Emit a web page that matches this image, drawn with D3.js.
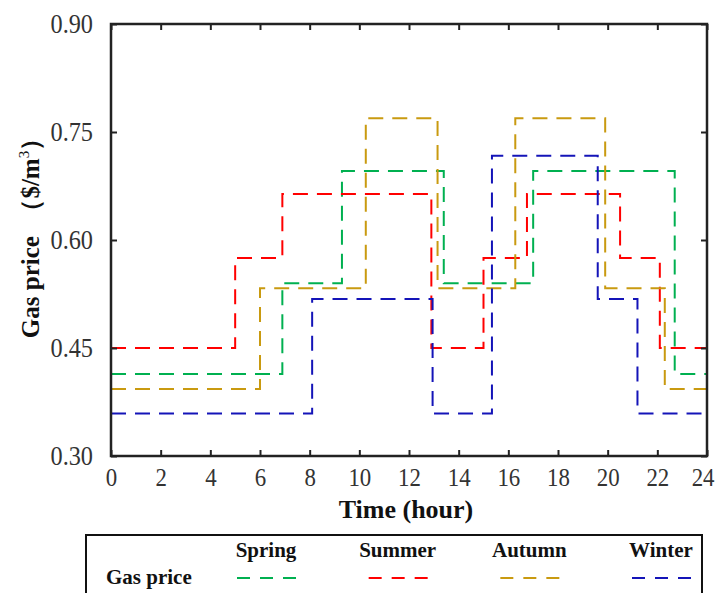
<!DOCTYPE html>
<html lang="en">
<head>
<meta charset="UTF-8">
<title>Gas price</title>
<script src="https://d3js.org/d3.v7.min.js"></script>
<style>
    body { margin: 0; padding: 0; background: #fff; }
    svg { display: block; }
    text { font-family: "Liberation Serif", "Times New Roman", serif; fill: #111; }
    .tick text { fill: #333; }
    .series { fill: none; stroke-width: 2px; }
</style>
</head>
<body>
<svg width="717" height="593"></svg>
<script>
// data
const hourTicks = [0, 2, 4, 6, 8, 10, 12, 14, 16, 18, 20, 22, 24];
const priceTicks = [0.30, 0.45, 0.60, 0.75, 0.90];

const springHours = [0, 6.9, 9.3, 13.4, 17.0, 22.7, 24];
const springPrice = [0.414, 0.540, 0.696, 0.540, 0.696, 0.414, 0.414];

const summerHours = [0, 5.0, 6.9, 12.9, 15.0, 16.75, 20.5, 22.1, 24];
const summerPrice = [0.450, 0.575, 0.664, 0.450, 0.575, 0.664, 0.575, 0.450, 0.450];

const autumnHours = [0, 6.0, 10.26, 13.15, 16.28, 19.9, 22.3, 24];
const autumnPrice = [0.393, 0.533, 0.769, 0.533, 0.769, 0.533, 0.393, 0.393];

const winterHours = [0, 8.1, 12.95, 15.34, 19.6, 21.2, 24];
const winterPrice = [0.359, 0.518, 0.359, 0.717, 0.518, 0.359, 0.359];

const seasons = ["Spring", "Summer", "Autumn", "Winter"];
const seasonColors = ["#00b050", "#ff0000", "#c99a10", "#1414b8"];

const seriesList = [
    { name: "Spring", hours: springHours, price: springPrice },
    { name: "Summer", hours: summerHours, price: summerPrice },
    { name: "Autumn", hours: autumnHours, price: autumnPrice },
    { name: "Winter", hours: winterHours, price: winterPrice }
];

const margin = { top: 24, left: 111 };
const width = 596, height = 432;

const svg = d3.select("svg");
const g = svg.append("g").attr("transform", `translate(${margin.left},${margin.top})`);

const x = d3.scaleLinear().domain([0, 24]).range([0, width]);
const y = d3.scaleLinear().domain([0.30, 0.90]).range([height, 0]);
const color = d3.scaleOrdinal().domain(seasons).range(seasonColors);

// lines
const line = d3.line()
    .x(d => x(d[0]))
    .y(d => y(d[1]))
    .curve(d3.curveStepAfter);

seriesList.forEach(s => {
    g.append("path")
        .datum(s.hours.map((h, i) => [h, s.price[i]]))
        .attr("class", "series")
        .attr("stroke", color(s.name))
        .attr("stroke-dasharray", "15,9")
        .attr("d", line);
});

// axes, ticks inside on all four sides
function styleAxis(sel) {
    sel.select(".domain").remove();
    sel.selectAll(".tick line").attr("stroke", "#222").attr("stroke-width", 2);
}

g.append("g")
    .attr("transform", `translate(0,${height})`)
    .call(d3.axisBottom(x).tickValues(hourTicks).tickSizeInner(-6).tickSizeOuter(0).tickPadding(12))
    .call(styleAxis)
    .selectAll("text")
    .style("font-size", "26px")
    .attr("x", d => d === 24 ? -5 : 0)
    .attr("transform", "scale(0.88,1)");

g.append("g")
    .call(d3.axisLeft(y).tickValues(priceTicks).tickFormat(d3.format(".2f")).tickSizeInner(-6).tickSizeOuter(0).tickPadding(20))
    .call(styleAxis)
    .selectAll("text")
    .style("font-size", "27px")
    .attr("transform", "scale(0.9,1)");

g.append("g")
    .call(d3.axisTop(x).tickValues(hourTicks).tickSizeInner(-6).tickSizeOuter(0).tickFormat(""))
    .call(styleAxis);

g.append("g")
    .attr("transform", `translate(${width},0)`)
    .call(d3.axisRight(y).tickValues(priceTicks).tickSizeInner(-6).tickSizeOuter(0).tickFormat(""))
    .call(styleAxis);

g.append("rect")
    .attr("width", width).attr("height", height)
    .attr("fill", "none").attr("stroke", "#222").attr("stroke-width", 2.5);

// axis titles
svg.append("text")
    .attr("x", margin.left + width / 2 - 3)
    .attr("y", 518)
    .attr("text-anchor", "middle")
    .style("font-size", "26px").style("font-weight", "bold")
    .text("Time (hour)");

const yTitle = svg.append("text")
    .attr("transform", `translate(39,${margin.top + height / 2 - 8}) rotate(-90)`)
    .attr("text-anchor", "middle")
    .style("font-size", "25px").style("font-weight", "bold");
yTitle.append("tspan").text("Gas price \u00a0\uff08$/m");
yTitle.append("tspan").attr("dy", -10).style("font-size", "15px").style("font-weight", "normal").text("3");
yTitle.append("tspan").attr("dy", 10).text("\uff09");

// legend
const legend = svg.append("g");
legend.append("rect")
    .attr("x", 86).attr("y", 535)
    .attr("width", 616).attr("height", 80)
    .attr("fill", "none").attr("stroke", "#111").attr("stroke-width", 2);

legend.append("text")
    .attr("x", 106).attr("y", 584)
    .style("font-size", "21px").style("font-weight", "bold")
    .text("Gas price");

const legendX = d3.scalePoint().domain(seasons).range([266, 661]);

seasons.forEach(s => {
    legend.append("text")
        .attr("x", legendX(s)).attr("y", 557)
        .attr("text-anchor", "middle")
        .style("font-size", "21px").style("font-weight", "bold")
        .text(s);
    legend.append("line")
        .attr("x1", legendX(s) - 29).attr("x2", legendX(s) + 30)
        .attr("y1", 578).attr("y2", 578)
        .attr("stroke", color(s)).attr("stroke-width", 2)
        .attr("stroke-dasharray", "13,10");
});
</script>
</body>
</html>
